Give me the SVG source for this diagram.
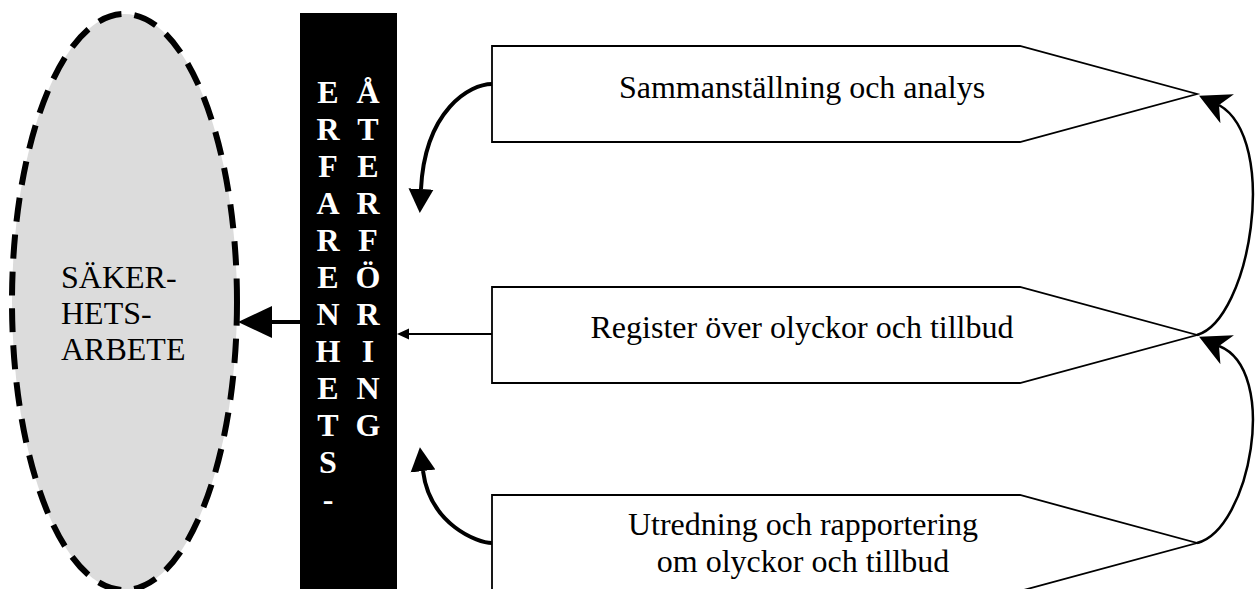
<svg xmlns="http://www.w3.org/2000/svg" width="1257" height="589" viewBox="0 0 1257 589">
<style>
.box{fill:#fff;stroke:#000;stroke-width:1.8}
.lbl{font-family:"Liberation Serif","Times New Roman",serif;font-size:32px;fill:#000;text-anchor:middle}
.ell{font-family:"Liberation Serif","Times New Roman",serif;font-size:32px;fill:#000}
.bar{font-family:"Liberation Serif","Times New Roman",serif;font-size:32px;font-weight:bold;fill:#fff;text-anchor:middle}
.thick{fill:none;stroke:#000;stroke-width:4}
.thin{fill:none;stroke:#000;stroke-width:1.8}
.curve{fill:none;stroke:#000;stroke-width:2.5}
</style>
<defs>
<marker id="tri" markerUnits="userSpaceOnUse" viewBox="0 -13 25 26" refX="0" refY="0" markerWidth="25" markerHeight="26" orient="auto">
<path d="M0,-12.5 L24,0 L0,12.5 Z" fill="#000"/>
</marker>
<marker id="big" markerUnits="userSpaceOnUse" viewBox="0 -17 35 34" refX="0" refY="0" markerWidth="35" markerHeight="34" orient="auto">
<path d="M0,-16 L34,0 L0,16 Z" fill="#000"/>
</marker>
<marker id="small" markerUnits="userSpaceOnUse" viewBox="0 -6 13 12" refX="0" refY="0" markerWidth="13" markerHeight="12" orient="auto">
<path d="M0,-5.5 L12,0 L0,5.5 Z" fill="#000"/>
</marker>
<marker id="stealth" markerUnits="userSpaceOnUse" viewBox="-33 -18 35 36" refX="-22" refY="0" markerWidth="35" markerHeight="36" orient="205">
<path d="M0,0 L-31,-16 L-22,0 L-31,16 Z" fill="#000"/>
</marker>
</defs>

<g id="sakerhetsarbete">
<ellipse cx="124.5" cy="302" rx="112.5" ry="288" fill="#dcdcdc" stroke="#000" stroke-width="6" stroke-dasharray="24 13"/>
<text class="ell" x="61" y="287.5">SÄKER-</text>
<text class="ell" x="61" y="323.5">HETS-</text>
<text class="ell" x="61" y="359.5">ARBETE</text>
</g>

<g id="erfarenhetsaterforing">
<rect x="300" y="13" width="97" height="576" fill="#000"/>
<text class="bar" x="328"><tspan x="328" y="103">E</tspan><tspan x="328" y="140">R</tspan><tspan x="328" y="177">F</tspan><tspan x="328" y="214">A</tspan><tspan x="328" y="251">R</tspan><tspan x="328" y="288">E</tspan><tspan x="328" y="325">N</tspan><tspan x="328" y="362">H</tspan><tspan x="328" y="399">E</tspan><tspan x="328" y="436">T</tspan><tspan x="328" y="473">S</tspan><tspan x="328" y="510">-</tspan></text>
<text class="bar" x="368"><tspan x="368" y="103">Å</tspan><tspan x="368" y="140">T</tspan><tspan x="368" y="177">E</tspan><tspan x="368" y="214">R</tspan><tspan x="368" y="251">F</tspan><tspan x="368" y="288">Ö</tspan><tspan x="368" y="325">R</tspan><tspan x="368" y="362">I</tspan><tspan x="368" y="399">N</tspan><tspan x="368" y="436">G</tspan></text>
</g>

<g id="sammanstallning">
<path class="box" d="M492,46 L1020,46 L1197,94 L1020,142 L492,142 Z"/>
<text class="lbl" x="802" y="98">Sammanställning och analys</text>
</g>

<g id="register">
<path class="box" d="M492,287 L1020,287 L1197,335 L1020,383 L492,383 Z"/>
<text class="lbl" x="802" y="338">Register över olyckor och tillbud</text>
</g>

<g id="utredning">
<path class="box" d="M492,495 L1020,495 L1197,543 L1020,591 L492,591 Z"/>
<text class="lbl" x="803" y="535">Utredning och rapportering</text>
<text class="lbl" x="803" y="572">om olyckor och tillbud</text>
</g>

<g id="connectors">
<path class="thick" d="M300,322 L272,322" marker-end="url(#big)" stroke-width="5"/>
<path class="thin" d="M492,334 L409,334" marker-end="url(#small)"/>
<path class="thick" d="M492,84 C470,84 425,110 421,189" marker-end="url(#tri)"/>
<path class="thick" d="M492,543 C478,543 430,525 423,471" marker-end="url(#tri)"/>
<path class="curve" d="M1197,335 C1250,320 1280,140 1219,105" marker-end="url(#stealth)"/>
<path class="curve" d="M1197,543 C1250,530 1280,370 1219,346" marker-end="url(#stealth)"/>
</g>
</svg>
